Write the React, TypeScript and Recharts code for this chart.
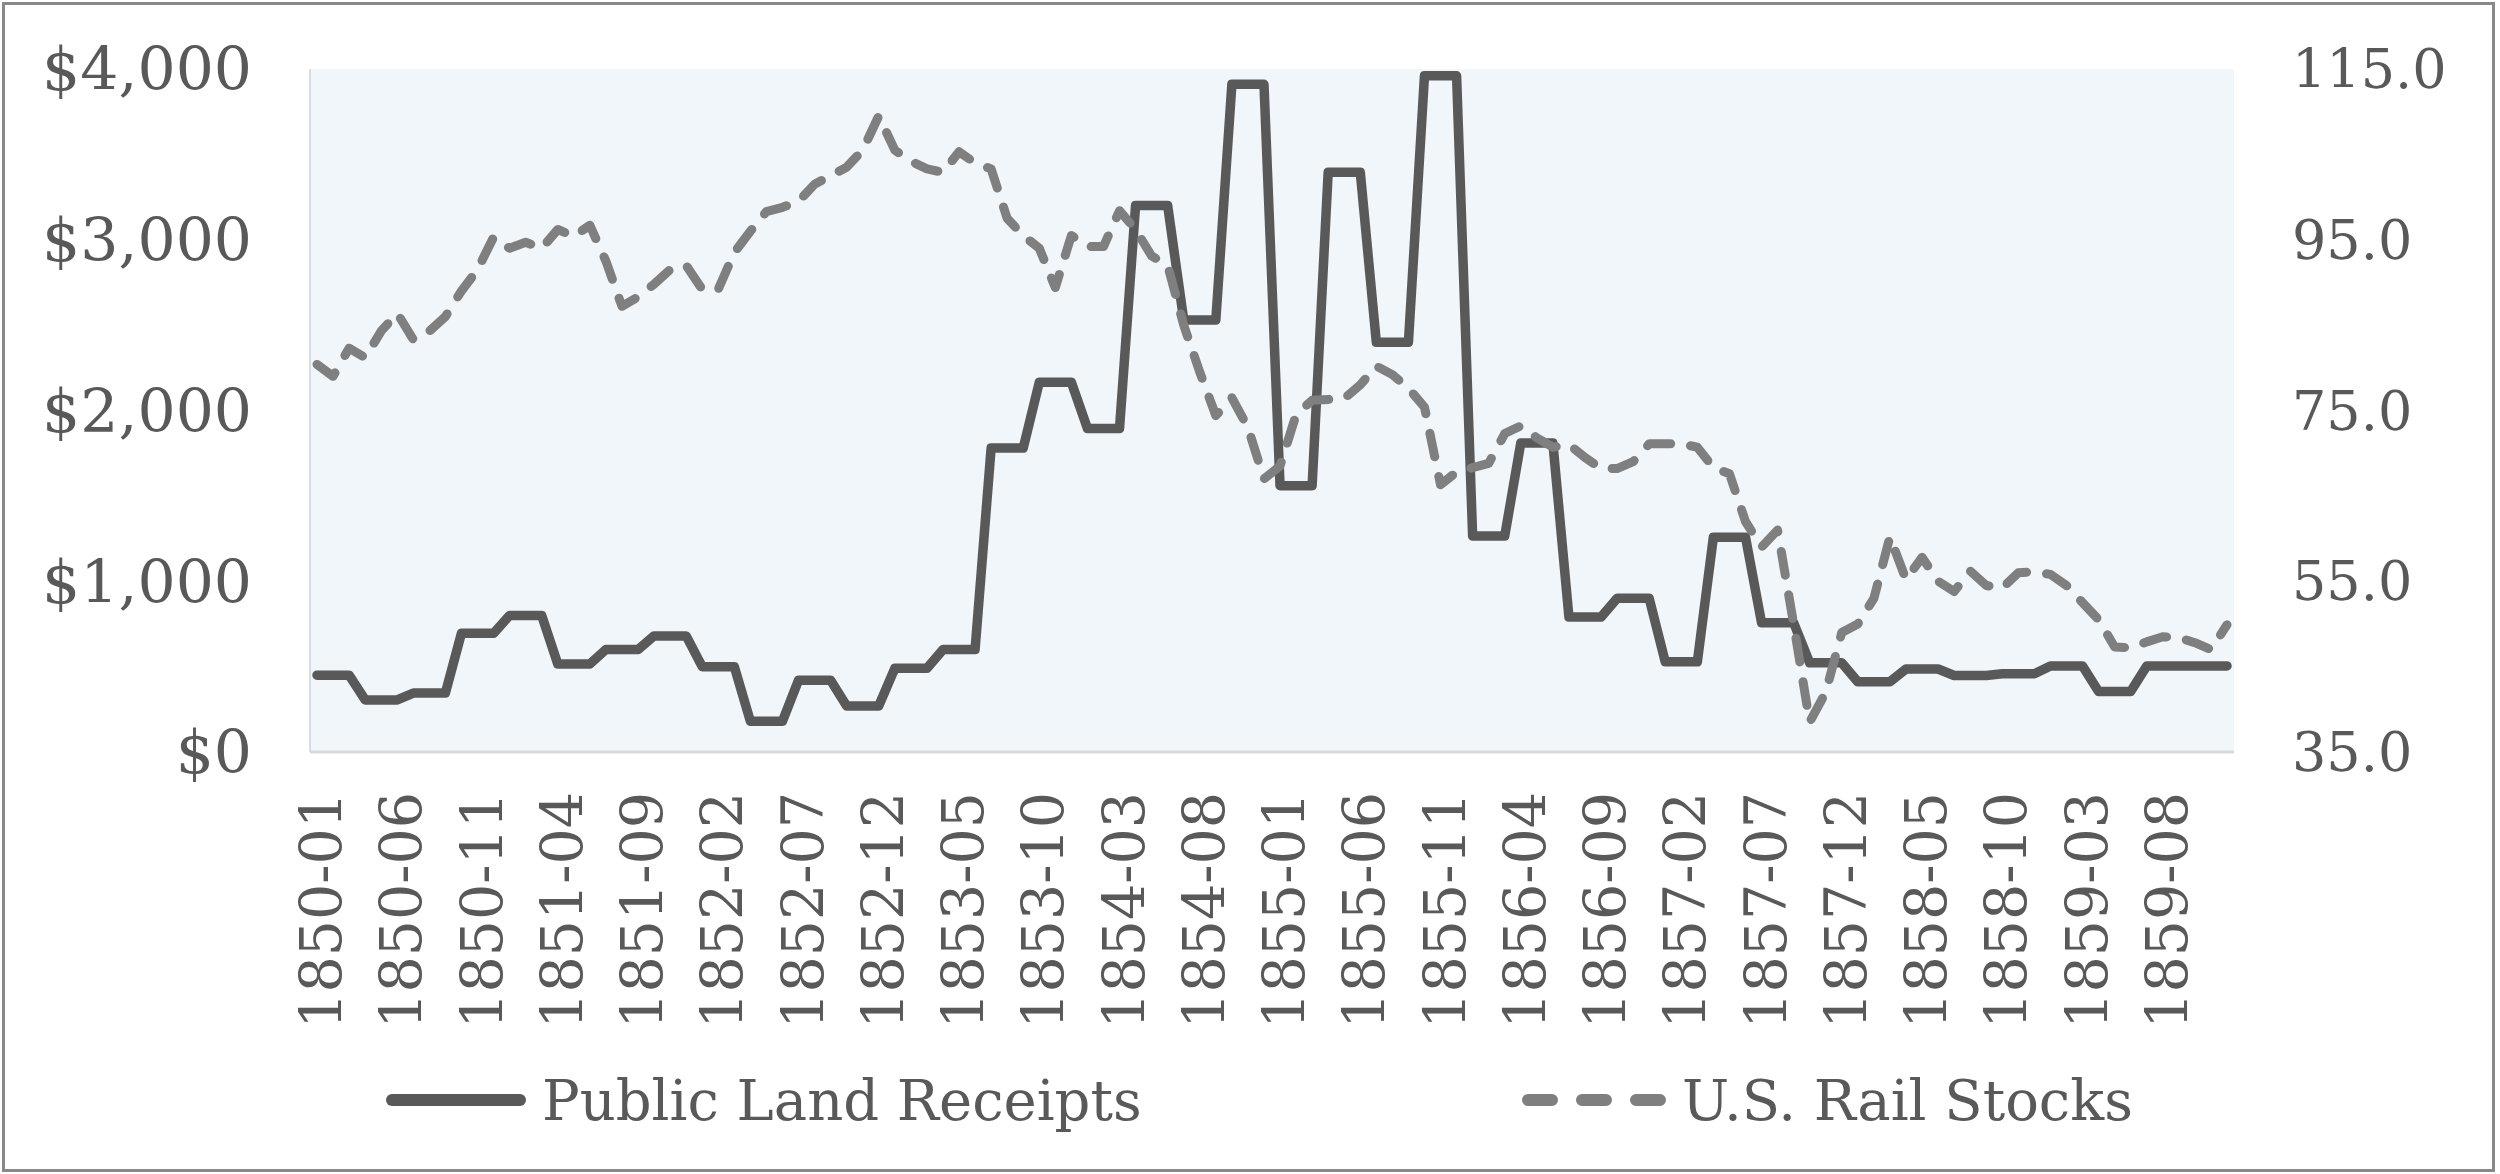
import React from 'react';
import { LineChart, Line, XAxis, YAxis, CartesianGrid, Legend } from 'recharts';

const years = ['1850', '1851', '1852', '1853', '1854', '1855', '1856', '1857', '1858', '1859'];
const monthNums = ['01', '02', '03', '04', '05', '06', '07', '08', '09', '10', '11', '12'];
const months = years.flatMap((y) => monthNums.map((m) => `${y}-${m}`));

// Public Land Receipts ($, quarterly figures shown monthly)
const landReceipts = [
  450, 450, 450, 305, 305, 305, 345, 345, 345, 695, 695, 695,
  800, 800, 800, 515, 515, 515, 600, 600, 600, 680, 680, 680,
  500, 500, 500, 180, 180, 180, 420, 420, 420, 270, 270, 270,
  490, 490, 490, 600, 600, 600, 1780, 1780, 1780, 2165, 2165, 2165,
  1895, 1895, 1895, 3200, 3200, 3200, 2530, 2530, 2530, 3910, 3910, 3910,
  1560, 1560, 1560, 3395, 3395, 3395, 2400, 2400, 2400, 3960, 3960, 3960,
  1265, 1265, 1265, 1810, 1810, 1810, 790, 790, 790, 900, 900, 900,
  528, 528, 528, 1258, 1258, 1258, 757, 757, 757, 522, 522, 522,
  411, 411, 411, 486, 486, 486, 448, 448, 448, 458, 458, 458,
  504, 504, 504, 354, 354, 354, 504, 504, 504, 504, 504, 504,
];

// U.S. Rail Stocks index
const railStocks = [
  80.4, 79.0, 82.3, 81.2, 84.3, 86.4, 83.3, 84.3, 86.0, 89.0, 91.5, 95.3,
  94.0, 94.7, 94.0, 96.2, 95.4, 96.7, 92.5, 87.2, 88.3, 89.8, 91.5, 92.0,
  89.2, 89.2, 93.5, 96.0, 98.3, 98.8, 99.5, 101.5, 102.5, 103.5, 105.5, 109.5,
  105.5, 104.2, 103.3, 102.9, 105.3, 104.0, 103.3, 97.5, 95.5, 94.0, 89.4, 95.5,
  94.2, 94.2, 98.4, 96.2, 93.1, 92.0, 85.0, 79.5, 74.4, 76.5, 73.0, 67.0,
  68.5, 74.5, 76.2, 76.3, 76.4, 78.0, 80.2, 79.2, 77.6, 75.4, 66.3, 67.8,
  68.3, 68.8, 72.3, 73.2, 71.8, 70.7, 71.0, 69.5, 68.2, 68.2, 69.0, 71.1,
  71.1, 71.1, 70.7, 68.3, 67.6, 62.0, 59.0, 61.0, 50.0, 38.5, 42.0, 49.0,
  50.0, 53.0, 60.2, 55.2, 57.8, 55.0, 53.8, 56.2, 54.5, 54.2, 56.0, 56.1,
  55.8, 54.5, 52.5, 50.5, 47.3, 47.2, 47.9, 48.5, 48.4, 47.8, 47.0, 49.9,
];

const leftTicks = [0, 1000, 2000, 3000, 4000];
const rightTicks = [35, 55, 75, 95, 115];

const data = months.map((month, i) => ({
  month,
  land: landReceipts[i],
  rail: railStocks[i],
}));

const FONT = "Georgia, 'DejaVu Serif', serif";
const TEXT = '#595959';

const MonthTick = ({ x, y, payload }: any) => (
  <text
    transform={`translate(${x + 4},${y + 40}) rotate(-90)`}
    textAnchor="end"
    dominantBaseline="central"
    fontSize={57}
    fontFamily={FONT}
    fill={TEXT}
  >
    {payload.value}
  </text>
);

const LegendContent = () => (
  <svg width={2500} height={120}>
    <line x1={392} y1={60} x2={520} y2={60} stroke="#595959" strokeWidth={12} strokeLinecap="round" />
    <text x={542} y={60} dominantBaseline="central" fontSize={56} fontFamily={FONT} fill={TEXT}>
      Public Land Receipts
    </text>
    <line
      x1={1528}
      y1={60}
      x2={1660}
      y2={60}
      stroke="#7F7F7F"
      strokeWidth={12}
      strokeLinecap="round"
      strokeDasharray="24 30"
    />
    <text x={1682} y={60} dominantBaseline="central" fontSize={56} fontFamily={FONT} fill={TEXT}>
      U.S. Rail Stocks
    </text>
  </svg>
);

export default function App() {
  return (
    <div style={{ position: 'absolute', left: 0, top: 0, width: 2500, height: 1174, background: '#fff' }}>
      <div
        style={{
          position: 'absolute',
          left: 2,
          top: 2,
          width: 2493,
          height: 1170,
          border: '3px solid #898989',
          boxSizing: 'border-box',
        }}
      />
      <div style={{ position: 'absolute', left: 0, top: 0 }}>
        <LineChart
          width={2500}
          height={1174}
          data={data}
          margin={{ top: 69, right: 36, left: 0, bottom: 132 }}
          style={{ fontFamily: FONT }}
        >
          <CartesianGrid horizontal={false} vertical={false} fill="#F1F6FB" stroke="none" />
          <XAxis
            dataKey="month"
            interval={4}
            tick={<MonthTick />}
            tickLine={false}
            tickSize={0}
            tickMargin={0}
            height={290}
            padding={{ left: 7, right: 7 }}
            axisLine={{ stroke: '#D9D9D9', strokeWidth: 3 }}
          />
          <YAxis
            yAxisId="left"
            domain={[0, 4000]}
            ticks={leftTicks}
            width={310}
            tickSize={0}
            tickMargin={58}
            tickLine={false}
            axisLine={{ stroke: '#CCD3DA', strokeWidth: 1.5 }}
            tickFormatter={(v: number) => `$${v.toLocaleString('en-US')}`}
            tick={{ fontSize: 60, fill: TEXT, fontFamily: FONT }}
          />
          <YAxis
            yAxisId="right"
            orientation="right"
            domain={[35, 115]}
            ticks={rightTicks}
            width={230}
            tickSize={0}
            tickMargin={58}
            tickLine={false}
            axisLine={false}
            tickFormatter={(v: number) => v.toFixed(1)}
            tick={{ fontSize: 54, fill: TEXT, fontFamily: FONT, textAnchor: 'start' }}
          />
          <Line
            yAxisId="left"
            type="linear"
            dataKey="land"
            name="Public Land Receipts"
            stroke="#595959"
            strokeWidth={9.5}
            strokeLinejoin="round"
            strokeLinecap="round"
            dot={false}
            activeDot={false}
            isAnimationActive={false}
          />
          <Line
            yAxisId="right"
            type="linear"
            dataKey="rail"
            name="U.S. Rail Stocks"
            stroke="#7F7F7F"
            strokeWidth={9}
            strokeDasharray="24 20"
            strokeLinejoin="round"
            strokeLinecap="round"
            dot={false}
            activeDot={false}
            isAnimationActive={false}
          />
          <Legend
            layout="horizontal"
            align="center"
            verticalAlign="middle"
            content={<LegendContent />}
            wrapperStyle={{ position: 'absolute', left: 0, top: 1040, width: 2500, height: 120 }}
          />
        </LineChart>
      </div>
    </div>
  );
}
